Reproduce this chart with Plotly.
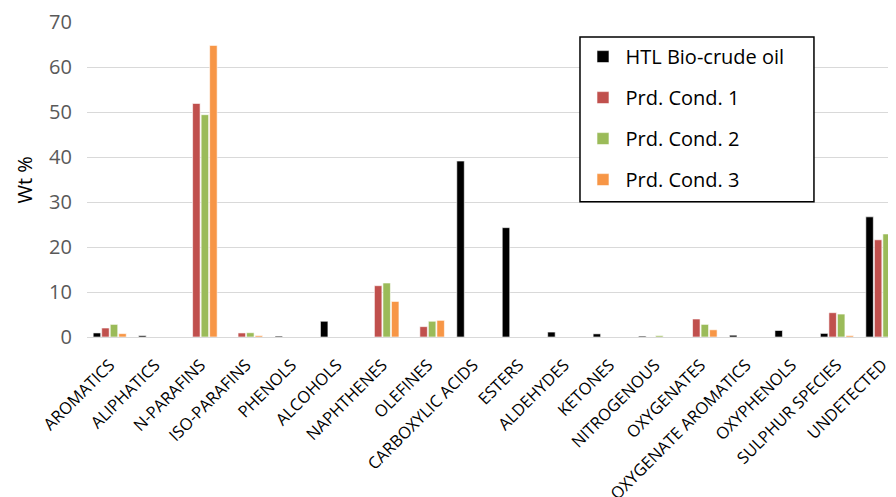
import plotly.graph_objects as go

categories = ["AROMATICS", "ALIPHATICS", "N-PARAFINS", "ISO-PARAFINS", "PHENOLS",
              "ALCOHOLS", "NAPHTHENES", "OLEFINES", "CARBOXYLIC ACIDS", "ESTERS",
              "ALDEHYDES", "KETONES", "NITROGENOUS", "OXYGENATES",
              "OXYGENATE AROMATICS", "OXYPHENOLS", "SULPHUR SPECIES", "UNDETECTED"]

htl_biocrude = [0.9, 0.3, 0, 0, 0.2, 3.5, 0, 0, 39.1, 24.3, 1.1, 0.7, 0.2, 0, 0.4, 1.45, 0.8, 26.7]
prd_cond_1 = [2.0, 0, 51.9, 0.9, 0, 0, 11.4, 2.3, 0, 0, 0, 0, 0, 4.0, 0, 0, 5.4, 21.6]
prd_cond_2 = [2.8, 0, 49.4, 0.95, 0, 0, 12.0, 3.5, 0, 0, 0, 0, 0.3, 2.8, 0, 0, 5.1, 22.9]
prd_cond_3 = [0.75, 0, 64.8, 0.3, 0, 0, 7.9, 3.7, 0, 0, 0, 0, 0, 1.6, 0, 0, 0.3, 20.3]

series = [
    ("HTL Bio-crude oil", htl_biocrude, "#000000"),
    ("Prd. Cond. 1", prd_cond_1, "#C0504D"),
    ("Prd. Cond. 2", prd_cond_2, "#9BBB59"),
    ("Prd. Cond. 3", prd_cond_3, "#F79646"),
]

fig = go.Figure()
for i, (name, vals, color) in enumerate(series):
    fig.add_trace(go.Bar(
        x=list(range(len(categories))), y=vals, name=name,
        marker=dict(color=color, line=dict(color="white", width=0.6)),
        legendgroup=f"g{i}",
    ))

# page body has an 8px margin; figure sized to fit the window exactly
fig.update_layout(
    width=888, height=489,
    margin=dict(l=50, r=0, t=14, b=159.5, autoexpand=False),
    paper_bgcolor="white", plot_bgcolor="white",
    barmode="group", bargap=0.25, bargroupgap=0.12,
    font=dict(family="Open Sans, Noto Sans, sans-serif", color="#000000"),
    showlegend=True,
    legend=dict(
        x=0.6235, y=0.952, xanchor="left", yanchor="top",
        borderwidth=0, bgcolor="rgba(0,0,0,0)",
        font=dict(size=20, color="#000000"),
        tracegroupgap=12, itemwidth=35,
    ),
    shapes=[dict(
        type="rect", xref="paper", yref="paper",
        x0=0.6229, x1=0.9021, y0=0.4295, y1=0.9525,
        line=dict(color="#000000", width=1.5), fillcolor="white", layer="above",
    )],
    annotations=[dict(
        text="Wt %", xref="paper", yref="paper", x=-0.0394, y=0.5,
        xanchor="center", yanchor="middle", textangle=-90, showarrow=False,
        font=dict(size=20, color="#000000"),
    )],
)

fig.update_xaxes(
    domain=[0.0346, 1],
    tickmode="array", tickvals=list(range(len(categories))), ticktext=categories,
    tickangle=-45, tickfont=dict(size=16.5, color="#000000"),
    range=[-0.5, 17.3], showgrid=False, showline=True, linecolor="#D9D9D9",
    linewidth=1, ticks="", ticklen=0, zeroline=False, automargin=False,
    ticklabelstandoff=11,
)
fig.update_yaxes(
    range=[0, 70], dtick=10, showgrid=True, gridcolor="#D9D9D9", gridwidth=1,
    tickfont=dict(size=20, color="#595959"), zeroline=False, showline=False,
    ticks="", ticklen=0, automargin=False,
    anchor="free", position=0.0167,
)

fig.write_html("out.html")
